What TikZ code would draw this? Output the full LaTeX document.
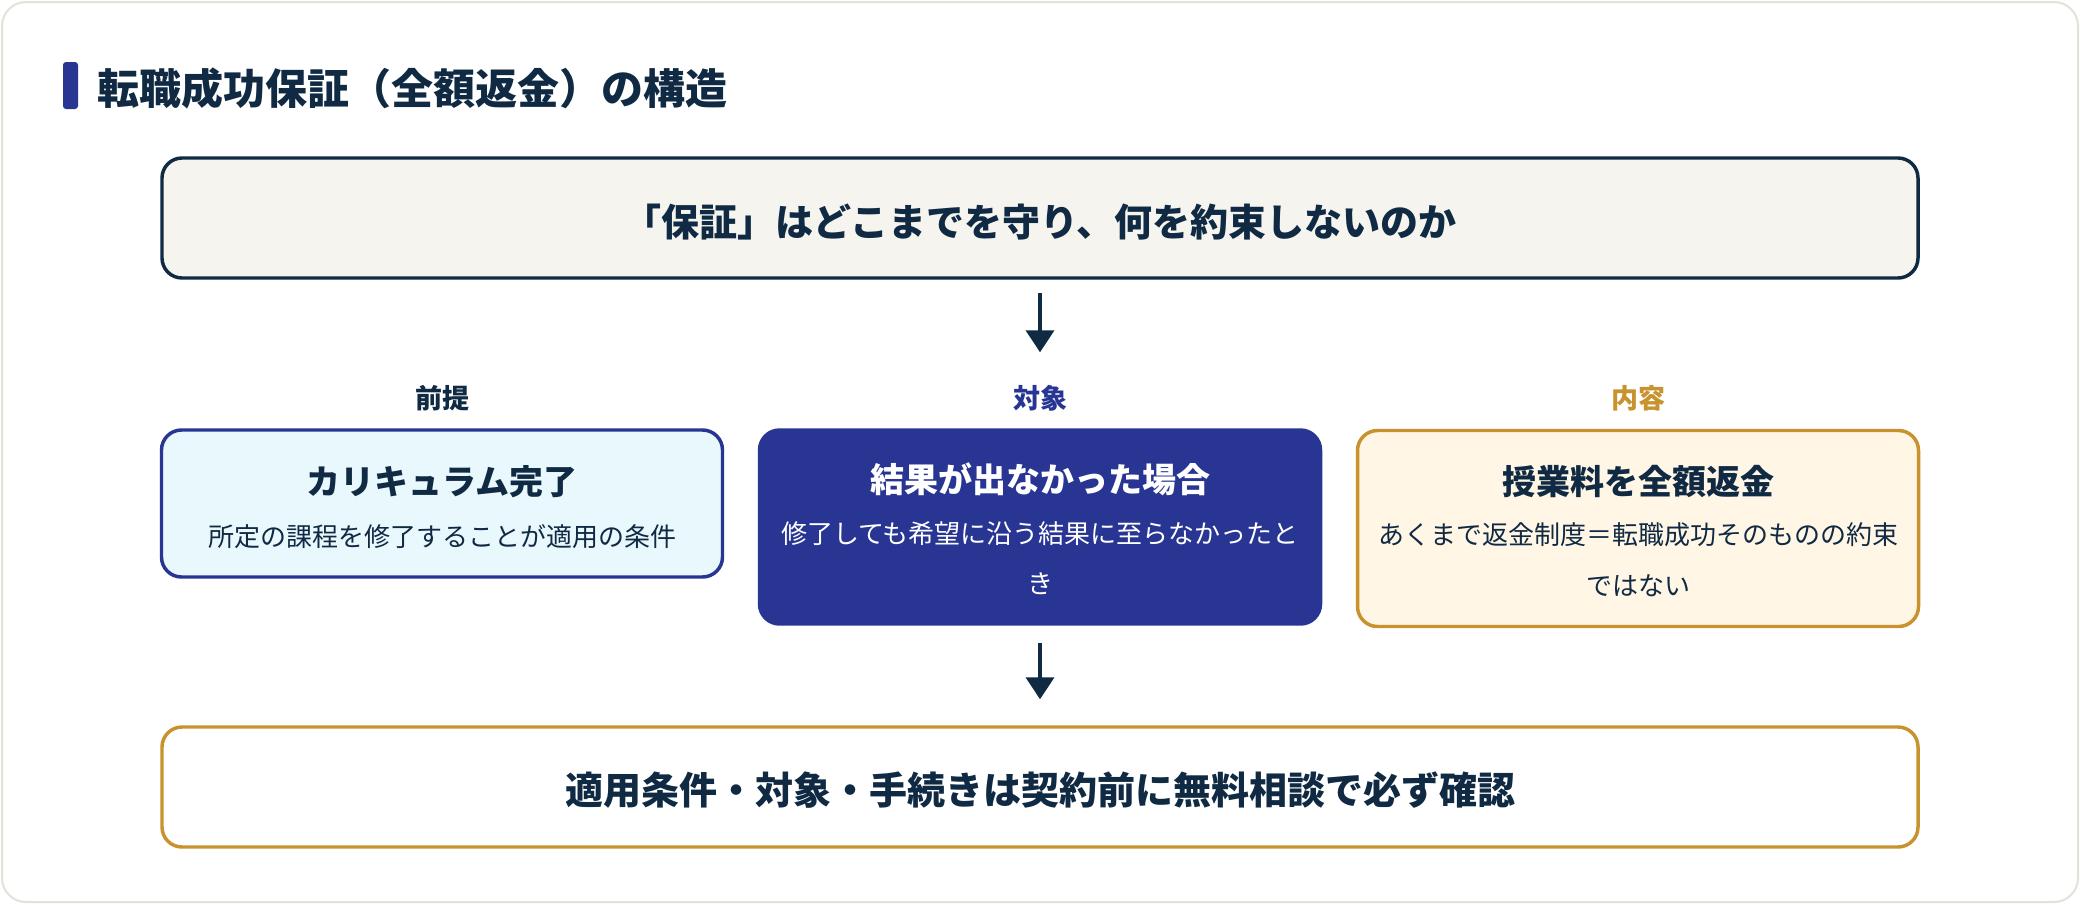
\documentclass[tikz,border=0pt]{standalone}
\usepackage{fontspec}
\setmainfont{Noto Sans CJK JP}
\usetikzlibrary{arrows.meta}
\newlength\pxu
\setlength\pxu{0.75pt}
\definecolor{ink}{HTML}{102A43}
\definecolor{indigo}{HTML}{283593}
\definecolor{gold}{HTML}{C8922E}
\definecolor{cardline}{HTML}{E4E2D8}
\definecolor{topfill}{HTML}{F5F4EF}
\definecolor{cyanfill}{HTML}{E9F8FD}
\definecolor{creamfill}{HTML}{FFF6E6}
\begin{document}
\begin{tikzpicture}[x=0.75pt,y=-0.75pt,
  panel/.style={rectangle, rounded corners=15pt, line width=2.6pt, inner sep=0pt},
  wide/.style={panel, minimum width=1317pt, minimum height=90pt},
  col/.style={panel, minimum width=420.75pt},
  txt/.style={anchor=base, inner sep=0pt},
  ttlfont/.style={font=\bfseries\fontsize{31.5pt}{38pt}\selectfont},
  bigfont/.style={font=\bfseries\fontsize{28.5pt}{34pt}\selectfont},
  lblfont/.style={font=\bfseries\fontsize{20.25pt}{26pt}\selectfont},
  headfont/.style={font=\bfseries\fontsize{25.5pt}{30pt}\selectfont},
  subfont/.style={font=\fontsize{19.5pt}{37.5pt}\selectfont},
  arr/.style={draw=ink, line width=3pt, -{Triangle[width=21pt,length=16.5pt]}}
]
\useasboundingbox (0,0) rectangle (2080,904);
\fill[white] (0,0) rectangle (2080,904);
\draw[draw=cardline, line width=1.5pt, rounded corners=18pt] (2,2) rectangle (2078,902);

% title
\fill[indigo, rounded corners=2.25pt] (63,62) rectangle (78,109);
\node[txt, anchor=base west, ttlfont, text=ink] (title) at (97,104) {転職成功保証（全額返金）の構造};

% top box
\node[wide, draw=ink, fill=topfill] (top) at (1040,218) {};
\node[txt, bigfont, text=ink] (toptxt) at (1040,236) {「保証」はどこまでを守り、何を約束しないのか};

% labels
\node[txt, lblfont, text=ink] (lbl1) at (442,408) {前提};
\node[txt, lblfont, text=indigo] (lbl2) at (1040,408) {対象};
\node[txt, lblfont, text=gold] (lbl3) at (1638,408) {内容};

% three boxes
\node[col, minimum height=110.25pt, draw=indigo, fill=cyanfill] (left) at (442,503.5) {};
\node[col, minimum height=145.5pt, draw=indigo, fill=indigo] (mid) at (1040,527) {};
\node[col, minimum height=147pt, draw=gold, fill=creamfill] (right) at (1638,528.5) {};

\node[txt, headfont, text=ink] (lefth) at (442,494) {カリキュラム完了};
\node[txt, subfont, text=ink] (lefts) at (442,546) {所定の課程を修了することが適用の条件};

\node[txt, headfont, text=white] (midh) at (1040,492) {結果が出なかった場合};
\node[txt, subfont, text=white] (mids1) at (1040,543) {修了しても希望に沿う結果に至らなかったと};
\node[txt, subfont, text=white] (mids2) at (1040,593) {き};

\node[txt, headfont, text=ink] (righth) at (1638,494) {授業料を全額返金};
\node[txt, subfont, text=ink] (rights1) at (1638,544) {あくまで返金制度＝転職成功そのものの約束};
\node[txt, subfont, text=ink] (rights2) at (1638,595) {ではない};

% bottom box
\node[wide, draw=gold, fill=white] (bottom) at (1040,787) {};
\node[txt, bigfont, text=ink] (bottxt) at (1040,804) {適用条件・対象・手続きは契約前に無料相談で必ず確認};

% arrows
\draw[arr, shorten <=9.75pt, shorten >=57pt] (top.south) -- (mid.north);
\draw[arr, shorten <=12.75pt, shorten >=19.5pt] (mid.south) -- (bottom.north);
\end{tikzpicture}
\end{document}
